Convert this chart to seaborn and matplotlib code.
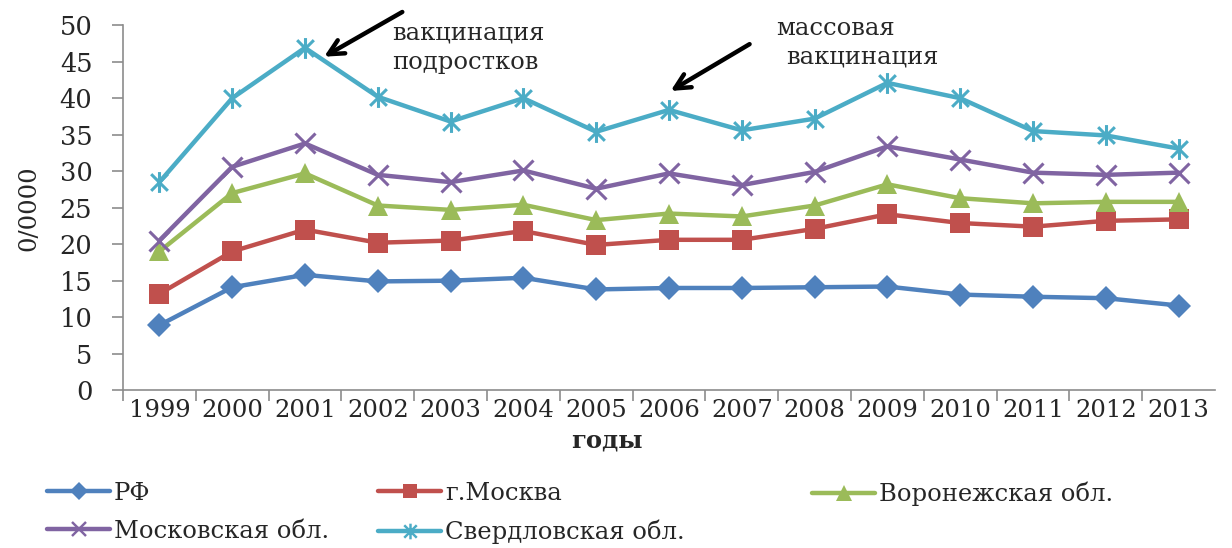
import numpy as np
import pandas as pd
import matplotlib
matplotlib.use("Agg")
import matplotlib.pyplot as plt
from matplotlib.path import Path
from matplotlib.lines import Line2D
import seaborn as sns

years = ["1999", "2000", "2001", "2002", "2003", "2004", "2005", "2006",
         "2007", "2008", "2009", "2010", "2011", "2012", "2013"]

rf = [8.9, 14.1, 15.8, 14.9, 15.0, 15.4, 13.8, 14.0, 14.0, 14.1, 14.2, 13.1, 12.8, 12.6, 11.6]
moscow_city = [13.2, 19.0, 22.0, 20.2, 20.5, 21.8, 19.9, 20.6, 20.6, 22.1, 24.1, 22.9, 22.4, 23.2, 23.4]
voronezh = [19.0, 27.0, 29.7, 25.3, 24.7, 25.4, 23.3, 24.2, 23.8, 25.3, 28.2, 26.3, 25.6, 25.8, 25.8]
moscow_obl = [20.5, 30.6, 33.8, 29.5, 28.5, 30.1, 27.6, 29.7, 28.1, 29.9, 33.4, 31.6, 29.8, 29.5, 29.8]
sverdlovsk = [28.5, 40.0, 46.9, 40.2, 36.8, 40.0, 35.4, 38.4, 35.6, 37.2, 42.1, 40.0, 35.5, 34.9, 33.1]

series_names = ["РФ", "г.Москва", "Воронежская обл.", "Московская обл.", "Свердловская обл."]
series_values = [rf, moscow_city, voronezh, moscow_obl, sverdlovsk]

sns.set_theme(style="white")
plt.rcParams["font.family"] = ["DejaVu Serif"]
FS = 17.5

# Excel-style star: diagonal cross plus a vertical bar
star = Path(
    [(-1, -1), (1, 1), (-1, 1), (1, -1), (0, -1.25), (0, 1.25)],
    [Path.MOVETO, Path.LINETO, Path.MOVETO, Path.LINETO, Path.MOVETO, Path.LINETO],
)

styles = {
    "РФ": dict(color="#4F81BD", marker="D", markersize=12, mew=0),
    "г.Москва": dict(color="#C0504D", marker="s", markersize=14, mew=0),
    "Воронежская обл.": dict(color="#9BBB59", marker="^", markersize=15, mew=0),
    "Московская обл.": dict(color="#8064A2", marker="x", markersize=14, mew=2.2),
    "Свердловская обл.": dict(color="#4BACC6", marker=star, markersize=15, mew=2.2),
}

fig = plt.figure(figsize=(12.32, 5.48), dpi=100)
ax = fig.add_axes([0.0998, 0.288, 0.8864, 0.666])

pos = np.arange(len(years))
handles = {}
for name, vals in zip(series_names, series_values):
    st = styles[name]
    df = pd.DataFrame({"pos": pos, "value": vals})
    sns.lineplot(data=df, x="pos", y="value", ax=ax, color=st["color"],
                 linewidth=3.2, marker=st["marker"], markersize=st["markersize"],
                 markeredgewidth=st["mew"], markeredgecolor=st["color"],
                 markerfacecolor=st["color"], legend=False)
    handles[name] = Line2D([], [], color=st["color"], linewidth=3.2, marker=st["marker"],
                           markersize=st["markersize"] * 0.75, markeredgewidth=st["mew"] * 0.8,
                           markeredgecolor=st["color"], markerfacecolor=st["color"])

ax.set_xlim(-0.5, len(years) - 0.5)
ax.set_ylim(0, 50)
ax.set_yticks(np.arange(0, 51, 5))
ax.set_xticks(np.arange(-0.5, len(years) - 1, 1.0))
ax.set_xticklabels([])
ax.set_xticks(pos, minor=True)
ax.set_xticklabels(years, minor=True, fontsize=FS)
ax.tick_params(axis="x", which="major", length=8, width=1.2, color="#8c8c8c", direction="out", bottom=True)
ax.tick_params(axis="x", which="minor", length=0, pad=6)
ax.tick_params(axis="y", length=8, width=1.2, color="#8c8c8c", direction="out", left=True, pad=14, labelsize=FS + 1)

for side in ("top", "right"):
    ax.spines[side].set_visible(False)
for side in ("left", "bottom"):
    ax.spines[side].set_color("#8c8c8c")
    ax.spines[side].set_linewidth(1.2)

ax.set_xlabel("годы", fontsize=FS, fontweight="bold", labelpad=5)
ax.xaxis.label.set_x(0.443)
ax.set_ylabel("0/0000", fontsize=FS, labelpad=14)

arrow = dict(arrowstyle="->,head_length=0.9,head_width=0.45", color="black", lw=3.2)
ax.annotate("", xy=(2.23, 45.5), xytext=(3.37, 52.0), arrowprops=arrow, annotation_clip=False)
ax.annotate("", xy=(6.99, 40.8), xytext=(8.14, 47.6), arrowprops=arrow, annotation_clip=False)
ax.text(3.20, 49.0, "вакцинация", fontsize=FS, ha="left", va="center", clip_on=False)
ax.text(3.20, 44.9, "подростков", fontsize=FS, ha="left", va="center", clip_on=False)
ax.text(8.47, 49.6, "массовая", fontsize=FS, ha="left", va="center", clip_on=False)
ax.text(8.61, 45.6, "вакцинация", fontsize=FS, ha="left", va="center", clip_on=False)

columns = [
    (47 / 1232, ["РФ", "Московская обл."]),
    (378 / 1232, ["г.Москва", "Свердловская обл."]),
    (812 / 1232, ["Воронежская обл."]),
]
for x0, names in columns:
    fig.legend([handles[n] for n in names], names, loc="upper left",
               bbox_to_anchor=(x0, 1 - 482 / 548), frameon=False, fontsize=FS,
               handlelength=2.6, handletextpad=0.15, borderpad=0, borderaxespad=0,
               labelspacing=0.6)

fig.savefig("out.png", dpi=100)
